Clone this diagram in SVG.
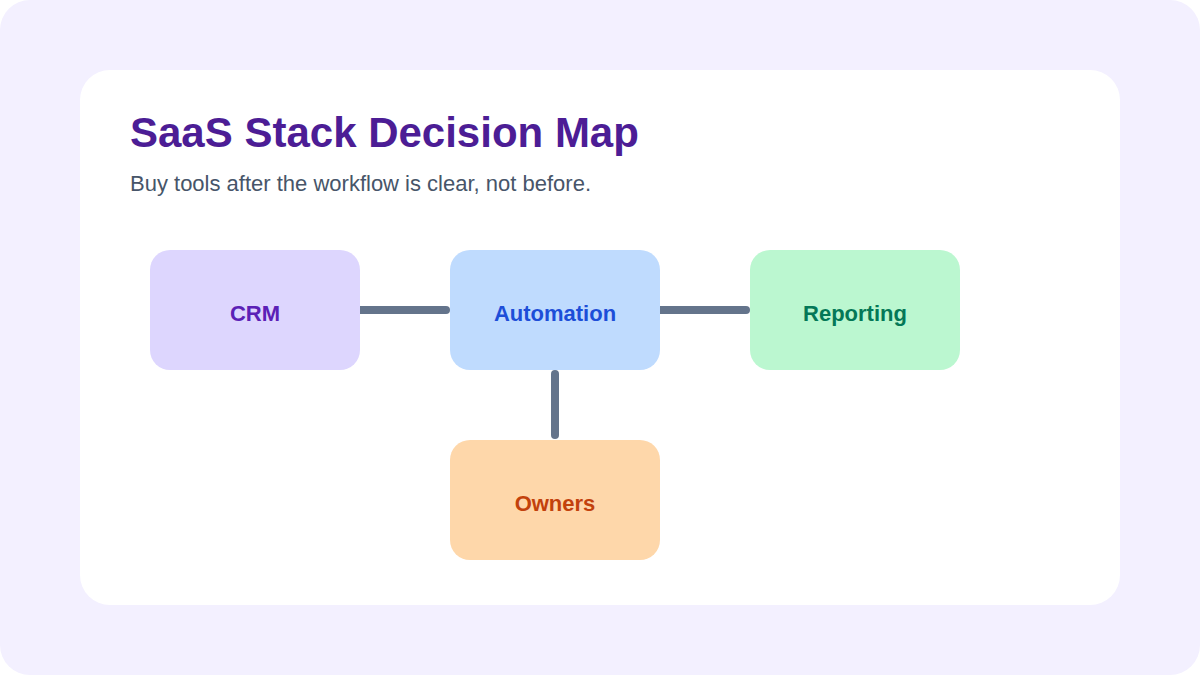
<svg xmlns="http://www.w3.org/2000/svg" width="1200" height="675" viewBox="0 0 1200 675">
<style>
.lbl{font-family:"Liberation Sans",Arial,sans-serif;font-size:22px;font-weight:bold;text-anchor:middle}
.c{stroke:#64748b;stroke-width:8;stroke-linecap:round;fill:none}
</style>
<rect x="0" y="0" width="1200" height="675" rx="30" fill="#f3f0ff"/>
<rect x="80" y="70" width="1040" height="535" rx="30" fill="#ffffff"/>
<text x="130" y="147" font-family="Liberation Sans,Arial,sans-serif" font-size="42" font-weight="bold" fill="#4c1d95">SaaS Stack Decision Map</text>
<text x="130" y="191" font-family="Liberation Sans,Arial,sans-serif" font-size="22" fill="#475569">Buy tools after the workflow is clear, not before.</text>
<g id="connectors">
<line class="c" x1="360" y1="310" x2="446" y2="310"/>
<line class="c" x1="660" y1="310" x2="746" y2="310"/>
<line class="c" x1="555" y1="374" x2="555" y2="435"/>
</g>
<g id="crm"><rect x="150" y="250" width="210" height="120" rx="20" fill="#ddd6fe"/><text class="lbl" x="255" y="321" fill="#5b21b6">CRM</text></g>
<g id="automation"><rect x="450" y="250" width="210" height="120" rx="20" fill="#bfdbfe"/><text class="lbl" x="555" y="321" fill="#1d4ed8">Automation</text></g>
<g id="reporting"><rect x="750" y="250" width="210" height="120" rx="20" fill="#bbf7d0"/><text class="lbl" x="855" y="321" fill="#047857">Reporting</text></g>
<g id="owners"><rect x="450" y="440" width="210" height="120" rx="20" fill="#fed7aa"/><text class="lbl" x="555" y="511" fill="#c2410c">Owners</text></g>
</svg>
